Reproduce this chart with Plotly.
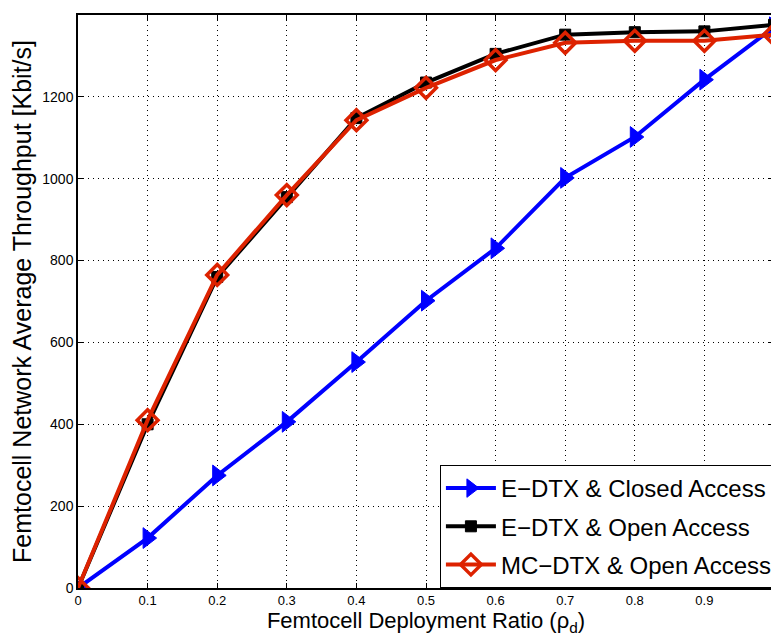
import plotly.graph_objects as go

# deployment ratio (x) and throughput per scheme [Kbit/s]
ratio = [0, 0.1, 0.2, 0.3, 0.4, 0.5, 0.6, 0.7, 0.8, 0.9, 1.0]
edtx_closed = [0, 122, 275, 406, 552, 702, 830, 1002, 1102, 1242, 1370]
edtx_open = [0, 400, 760, 955, 1148, 1235, 1305, 1352, 1358, 1360, 1376]
mcdtx_open = [0, 410, 765, 960, 1143, 1222, 1290, 1332, 1337, 1337, 1352]

x_ticks = [0, 0.1, 0.2, 0.3, 0.4, 0.5, 0.6, 0.7, 0.8, 0.9]
y_ticks = [0, 200, 400, 600, 800, 1000, 1200, 1400]

FONT = "Liberation Sans, Arial, sans-serif"

fig = go.Figure()

fig.add_trace(go.Scatter(x=ratio, y=edtx_closed, mode="lines+markers",
                         name="E−DTX & Closed Access", legendgroup="a",
                         line=dict(color="#0000ff", width=4),
                         marker=dict(symbol="triangle-right", size=18, color="#0000ff",
                                     line=dict(color="#0000ff", width=1))))
fig.add_trace(go.Scatter(x=ratio, y=edtx_open, mode="lines+markers",
                         name="E−DTX & Open Access", legendgroup="b",
                         line=dict(color="black", width=4),
                         marker=dict(symbol="square", size=11, color="black",
                                     line=dict(color="black", width=1))))
fig.add_trace(go.Scatter(x=ratio, y=mcdtx_open, mode="lines+markers",
                         name="MC−DTX & Open Access", legendgroup="c",
                         line=dict(color="#dd2200", width=4),
                         marker=dict(symbol="diamond-open", size=16, color="#dd2200",
                                     line=dict(color="#dd2200", width=3.5))))

axis_common = dict(showline=True, linecolor="black", linewidth=1.5, mirror="ticks",
                   ticks="inside", ticklen=5, tickcolor="black", tickwidth=1,
                   showgrid=True, gridcolor="black", gridwidth=1, griddash="1px,4px",
                   zeroline=False, automargin=False)

fig.update_xaxes(range=[0, 1], tickvals=x_ticks, ticktext=[str(v) for v in x_ticks],
                 tickfont=dict(family=FONT, size=13, color="black"),
                 title=dict(text="Femtocell Deployment Ratio (ρ<sub>d</sub>)",
                            font=dict(family=FONT, size=22, color="black"), standoff=3),
                 **axis_common)
fig.update_yaxes(range=[0, 1400], tickvals=y_ticks,
                 tickfont=dict(family=FONT, size=14, color="black"),
                 title=dict(text="Femtocell Network Average Throughput [Kbit/s]",
                            font=dict(family=FONT, size=25, color="black"), standoff=14),
                 **axis_common)

# page body adds an 8px offset, so the figure is sized to the visible area
fig.update_layout(width=771, height=636,
                  margin=dict(l=70, r=1, t=7, b=56),
                  paper_bgcolor="white", plot_bgcolor="white",
                  font=dict(family=FONT, color="black"),
                  showlegend=True,
                  legend=dict(x=0.52, y=0, xanchor="left", yanchor="bottom",
                              bgcolor="white", bordercolor="black", borderwidth=1,
                              font=dict(family=FONT, size=24, color="black"),
                              traceorder="grouped", tracegroupgap=4, itemwidth=50))

fig.write_html("out.html")
